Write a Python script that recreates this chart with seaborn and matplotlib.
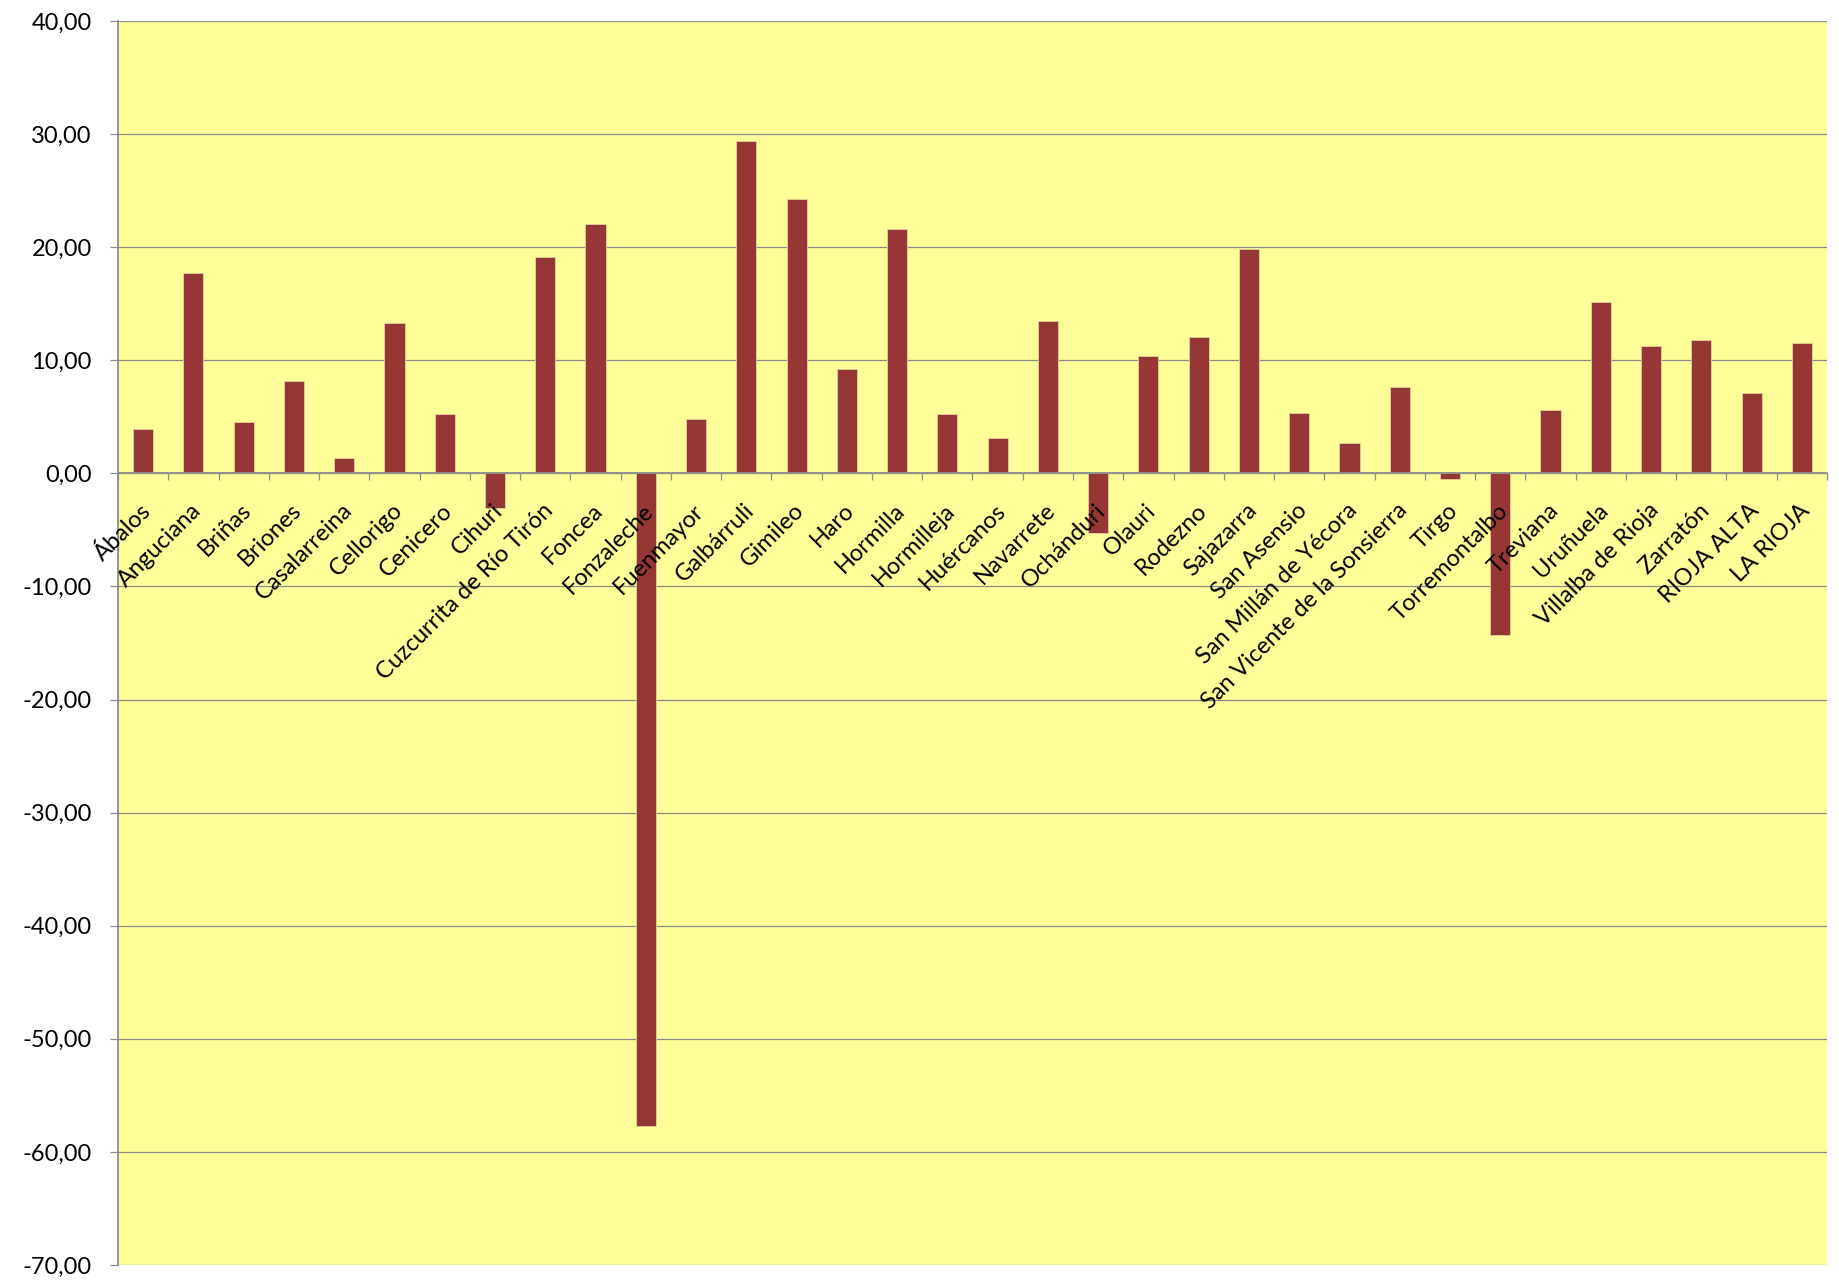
import matplotlib
matplotlib.use('Agg')
import matplotlib.pyplot as plt
import matplotlib.transforms as mtransforms
import seaborn as sns
import pandas as pd
import numpy as np

municipios = ['Ábalos', 'Anguciana', 'Briñas', 'Briones', 'Casalarreina', 'Cellorigo',
              'Cenicero', 'Cihuri', 'Cuzcurrita de Río Tirón', 'Foncea', 'Fonzaleche',
              'Fuenmayor', 'Galbárruli', 'Gimileo', 'Haro', 'Hormilla', 'Hormilleja',
              'Huércanos', 'Navarrete', 'Ochánduri', 'Olauri', 'Rodezno', 'Sajazarra',
              'San Asensio', 'San Millán de Yécora', 'San Vicente de la Sonsierra', 'Tirgo',
              'Torremontalbo', 'Treviana', 'Uruñuela', 'Villalba de Rioja', 'Zarratón',
              'RIOJA ALTA', 'LA RIOJA']
variacion = [3.90, 17.75, 4.56, 8.20, 1.39, 13.34,
             5.27, -3.03, 19.11, 22.07, -57.75,
             4.80, 29.35, 24.23, 9.26, 21.63, 5.27,
             3.10, 13.43, -5.28, 10.38, 12.07, 19.80,
             5.36, 2.66, 7.66, -0.53,
             -14.28, 5.59, 15.12, 11.27, 11.83,
             7.07, 11.51]
y_ticks = [40, 30, 20, 10, 0, -10, -20, -30, -40, -50, -60, -70]
y_tick_labels = ['40,00', '30,00', '20,00', '10,00', '0,00', '-10,00', '-20,00',
                 '-30,00', '-40,00', '-50,00', '-60,00', '-70,00']

sns.set_theme(style='white')
plt.rcParams['font.family'] = ['Lato', 'DejaVu Sans']

W, H = 1839, 1282
fig = plt.figure(figsize=(W / 100, H / 100), dpi=100)
fig.patch.set_facecolor('white')
left, right, top, bottom = 118, 1827, 21, 1265
ax = fig.add_axes([left / W, 1 - bottom / H, (right - left) / W, (bottom - top) / H])
ax.set_facecolor('#FFFF99')

df = pd.DataFrame({'municipio': municipios, 'variacion': variacion})
sns.barplot(data=df, x='municipio', y='variacion', color='#953735', saturation=1,
            width=0.4, edgecolor='#e8cf9a', linewidth=0.6, errorbar=None, ax=ax)

grey = '#8c8c8c'
ax.set_xlim(-0.5, len(municipios) - 0.5)
ax.set_ylim(-70, 40)
ax.set_yticks(y_ticks)
ax.set_yticklabels(y_tick_labels, fontsize=17, color='black')
ax.yaxis.grid(True, color=grey, linewidth=0.9)
ax.xaxis.grid(False)
ax.set_axisbelow(True)
ax.xaxis.set_zorder(3)
ax.set_xlabel('')
ax.set_ylabel('')

for s in ['top', 'right']:
    ax.spines[s].set_visible(False)
ax.spines['left'].set_color(grey)
ax.spines['left'].set_linewidth(1.3)
ax.spines['bottom'].set_position(('data', 0))
ax.spines['bottom'].set_color(grey)
ax.spines['bottom'].set_linewidth(1.3)

ax.tick_params(axis='y', which='major', left=True, direction='out', length=5.8,
               width=0.9, color=grey, pad=13)
ax.set_xticks(range(len(municipios)))
ax.set_xticklabels(municipios, rotation=45, ha='right', va='top',
                   rotation_mode='anchor', fontsize=17, color='black')
ax.set_xticks(np.arange(-0.5, len(municipios), 1), minor=True)
ax.tick_params(axis='x', which='major', bottom=True, length=0, pad=19)
ax.tick_params(axis='x', which='minor', bottom=True, direction='out', length=5.3,
               width=0.9, color=grey)

offset = mtransforms.ScaledTranslation(-3 / 100, 0, fig.dpi_scale_trans)
for lbl in ax.get_xticklabels():
    lbl.set_transform(lbl.get_transform() + offset)

fig.savefig('out.png', dpi=100, facecolor='white')
